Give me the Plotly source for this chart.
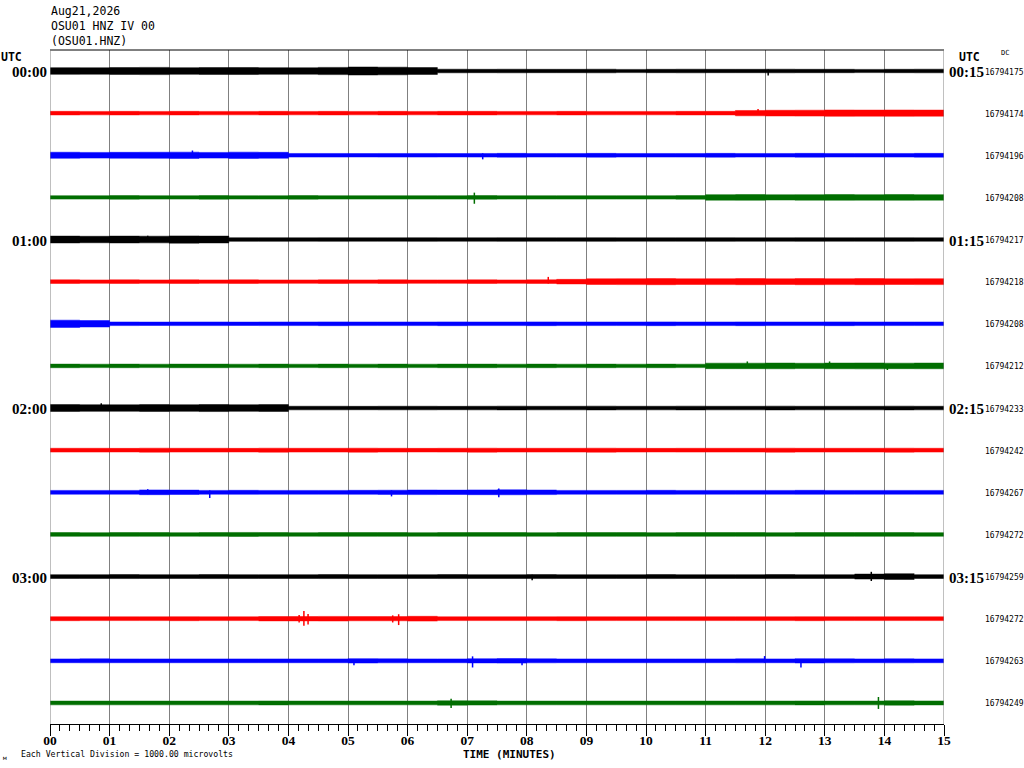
import plotly.graph_objects as go

# ---------------- data ----------------
TITLE_LINES = ["Aug21,2026", "OSU01 HNZ IV 00", "(OSU01.HNZ)"]
LEFT_LABELS = ["00:00", "", "", "", "01:00", "", "", "", "02:00", "", "", "", "03:00", "", "", ""]
RIGHT_LABELS = ["00:15", "", "", "", "01:15", "", "", "", "02:15", "", "", "", "03:15", "", "", ""]
DC_VALUES = ["16794175", "16794174", "16794196", "16794208", "16794217", "16794218", "16794208", "16794212",
             "16794233", "16794242", "16794267", "16794272", "16794259", "16794272", "16794263", "16794249"]
TICK_LABELS = ["00", "01", "02", "03", "04", "05", "06", "07", "08", "09", "10", "11", "12", "13", "14", "15"]
TICK_VALUES = [0, 1, 2, 3, 4, 5, 6, 7, 8, 9, 10, 11, 12, 13, 14, 15]

# start times (minutes) of the 30-second envelope readings
TIMES = [0, 0.5, 1, 1.5, 2, 2.5, 3, 3.5, 4, 4.5, 5, 5.5, 6, 6.5, 7, 7.5, 8, 8.5, 9, 9.5,
         10, 10.5, 11, 11.5, 12, 12.5, 13, 13.5, 14, 14.5, 15]

# half-amplitude of each trace's envelope per 30 s
amp_0000 = [3.5, 3.4, 3.6, 3.8, 3.5, 3.6, 3.7, 3.5, 3.4, 3.8, 4.2, 4.0, 3.6, 1.9, 1.8, 1.9, 1.8, 1.8, 1.9, 1.7,
            1.8, 1.9, 1.8, 1.8, 1.9, 1.8, 1.8, 1.7, 1.8, 1.9, 1.9]
amp_0015 = [1.9, 1.8, 1.9, 1.8, 1.9, 1.8, 1.8, 1.9, 1.8, 1.9, 1.8, 1.9, 1.8, 1.9, 1.9, 1.8, 1.8, 1.9, 1.8, 1.8,
            1.8, 1.9, 1.9, 2.8, 3.0, 3.1, 3.3, 3.2, 3.3, 3.2, 3.1]
amp_0030 = [3.2, 3.0, 3.1, 3.2, 3.3, 3.0, 3.3, 3.1, 1.9, 1.9, 1.8, 1.9, 1.9, 1.8, 1.9, 2.0, 1.9, 1.9, 2.0, 1.9,
            1.9, 1.9, 2.0, 1.9, 1.9, 2.0, 1.9, 1.9, 1.9, 2.0, 1.9]
amp_0045 = [1.8, 1.8, 1.9, 1.8, 1.8, 1.9, 1.8, 1.8, 1.9, 1.8, 1.8, 1.8, 1.8, 1.8, 1.9, 1.8, 1.8, 1.8, 1.8, 1.8,
            1.8, 1.9, 2.9, 3.0, 2.8, 2.9, 3.0, 2.9, 3.0, 2.9, 2.8]
amp_0100 = [3.6, 3.4, 3.6, 3.5, 3.8, 3.6, 1.9, 1.9, 1.8, 1.9, 1.8, 1.8, 1.9, 1.8, 1.8, 1.9, 1.8, 1.8, 1.9, 1.8,
            1.8, 1.8, 1.9, 1.8, 1.8, 1.9, 1.8, 1.8, 1.9, 1.8, 1.9]
amp_0115 = [1.9, 1.8, 1.9, 1.8, 1.9, 1.8, 1.9, 1.8, 1.8, 1.9, 1.8, 1.9, 1.8, 1.8, 1.9, 1.8, 1.9, 2.4, 3.0, 3.1,
            3.2, 3.0, 3.1, 3.2, 3.0, 3.2, 3.1, 3.2, 3.0, 3.1, 3.0]
amp_0130 = [3.8, 3.4, 1.9, 1.8, 1.9, 1.9, 1.8, 1.9, 1.9, 2.0, 1.9, 1.9, 1.9, 2.0, 1.9, 1.9, 2.0, 1.9, 1.9, 1.9,
            2.0, 1.9, 1.9, 2.0, 1.9, 1.9, 2.0, 1.9, 1.9, 1.9, 1.9]
amp_0145 = [1.9, 1.8, 1.9, 1.8, 1.9, 1.9, 1.8, 1.9, 1.8, 1.9, 1.8, 1.9, 1.8, 1.9, 1.9, 1.8, 1.9, 1.8, 1.9, 1.8,
            1.9, 1.8, 2.9, 2.9, 3.0, 2.8, 3.0, 3.1, 2.9, 3.0, 3.1]
amp_0200 = [3.6, 3.5, 3.4, 3.6, 3.5, 3.7, 3.5, 3.6, 1.9, 1.9, 1.8, 1.9, 1.9, 1.8, 1.9, 2.0, 1.9, 1.9, 2.0, 1.9,
            1.9, 2.0, 1.9, 1.9, 2.0, 1.9, 1.9, 1.9, 2.0, 1.9, 1.9]
amp_0215 = [2.0, 2.0, 1.9, 2.1, 2.0, 2.0, 1.9, 2.1, 2.0, 2.0, 2.1, 2.0, 1.9, 2.0, 2.1, 2.0, 2.0, 2.0, 2.1, 2.0,
            1.9, 2.0, 2.0, 2.0, 2.1, 2.0, 2.0, 2.0, 2.1, 2.0, 2.0]
amp_0230 = [2.0, 2.0, 2.0, 2.5, 2.3, 2.0, 2.1, 2.0, 2.0, 2.0, 2.1, 2.2, 2.4, 2.3, 2.5, 2.6, 2.4, 2.0, 2.0, 2.0,
            2.1, 2.0, 2.0, 2.0, 2.0, 2.1, 2.0, 2.0, 2.0, 2.0, 2.0]
amp_0245 = [2.0, 1.9, 2.0, 2.0, 1.9, 2.0, 2.1, 2.0, 1.9, 2.0, 2.0, 2.0, 1.9, 2.0, 2.0, 2.0, 1.9, 2.0, 2.0, 2.0,
            1.9, 2.0, 2.0, 2.0, 1.9, 2.0, 2.0, 2.0, 2.0, 1.9, 2.0]
amp_0300 = [2.0, 2.0, 2.1, 2.0, 2.0, 2.1, 2.0, 2.0, 2.0, 2.1, 2.0, 2.0, 2.0, 2.1, 2.0, 2.0, 2.1, 2.0, 2.0, 2.0,
            2.1, 2.0, 2.0, 2.0, 2.1, 2.0, 2.0, 2.6, 3.0, 2.0, 2.0]
amp_0315 = [2.1, 2.0, 2.0, 2.0, 2.1, 2.0, 2.0, 2.3, 2.3, 2.4, 2.2, 2.2, 2.5, 2.0, 2.0, 2.0, 2.0, 2.1, 2.0, 2.0,
            2.0, 2.0, 2.0, 2.0, 2.0, 2.1, 2.0, 2.0, 2.0, 2.0, 2.0]
amp_0330 = [2.0, 2.1, 2.0, 2.0, 2.0, 2.0, 2.0, 2.0, 2.0, 2.0, 2.3, 2.1, 2.0, 2.0, 2.2, 2.4, 2.1, 2.0, 2.0, 2.0,
            2.0, 2.0, 2.0, 2.1, 2.0, 2.3, 2.1, 2.0, 2.1, 2.0, 2.0]
amp_0345 = [2.0, 2.0, 2.0, 2.0, 2.0, 2.0, 2.0, 2.1, 2.0, 2.0, 2.0, 2.0, 2.0, 2.3, 2.2, 2.0, 2.0, 2.0, 2.0, 2.0,
            2.0, 2.0, 2.0, 2.0, 2.0, 2.1, 2.0, 2.0, 2.3, 2.1, 2.0]

# individual spikes: trace index, minute, excursion up, excursion down
SPIKE_TRACE = [0, 1, 2, 2, 3, 4, 5, 7, 7, 7, 8, 10, 10, 10, 10, 12, 12, 13, 13, 13, 13, 13,
               14, 14, 14, 14, 14, 15, 15]
SPIKE_MIN = [12.05, 11.88, 2.39, 7.26, 7.12, 1.64, 8.36, 11.7, 13.08, 14.05, 0.86, 2.68, 7.53, 5.73, 1.64,
             13.78, 8.09, 4.26, 4.33, 4.18, 5.85, 5.75, 7.09, 7.92, 11.99, 12.6, 5.1, 6.73, 13.9]
SPIKE_UP = [1.5, 4.3, 5.0, 2.0, 5.0, 4.0, 5.0, 4.7, 4.7, 2.0, 5.0, 2.0, 4.0, 2.0, 3.3,
            5.0, 2.0, 8.0, 5.0, 4.0, 4.7, 3.5, 4.7, 2.0, 5.0, 2.0, 2.0, 4.3, 6.3]
SPIKE_DOWN = [4.7, 2.0, 2.0, 4.3, 6.7, 2.0, 2.0, 2.0, 2.0, 4.3, 2.0, 6.0, 5.3, 4.3, 2.0,
              4.7, 4.0, 7.5, 6.0, 4.0, 6.7, 4.0, 7.0, 4.7, 2.0, 7.0, 4.7, 5.3, 6.3]

TRACE_AMPS = [amp_0000, amp_0015, amp_0030, amp_0045, amp_0100, amp_0115, amp_0130, amp_0145,
              amp_0200, amp_0215, amp_0230, amp_0245, amp_0300, amp_0315, amp_0330, amp_0345]
COLORS = ["#000000", "#ff0000", "#0000ff", "#006e00"]

# ---------------- layout constants ----------------
W, H = 1024, 768
L, R, T, B = 50, 80, 50, 44
PW, PH = W - L - R, H - T - B
FIRST_OFFSET = 21.0
SPACING = 42.13
GAIN = 0.95


def baseline(i):
    return -(FIRST_OFFSET + i * SPACING)


def px_x(px):
    return (px - L) / PW


def px_y(py):
    return (T + PH - py) / PH


fig = go.Figure()

# trace envelopes (lower edge, then upper edge filled to it)
for i, amps in enumerate(TRACE_AMPS):
    b = baseline(i)
    col = COLORS[i % 4]
    fig.add_trace(go.Scatter(x=TIMES, y=[b - GAIN * a for a in amps], mode="lines",
                             line=dict(color=col, width=0.5, shape="hv"),
                             hoverinfo="skip", showlegend=False))
    fig.add_trace(go.Scatter(x=TIMES, y=[b + GAIN * a for a in amps], mode="lines",
                             line=dict(color=col, width=0.5, shape="hv"), fill="tonexty", fillcolor=col,
                             hoverinfo="skip", showlegend=False))

# spikes
for c in range(4):
    sx, sy = [], []
    for t, m, u, d in zip(SPIKE_TRACE, SPIKE_MIN, SPIKE_UP, SPIKE_DOWN):
        if t % 4 == c:
            b = baseline(t)
            sx += [m, m, None]
            sy += [b + GAIN * u, b - GAIN * d, None]
    fig.add_trace(go.Scatter(x=sx, y=sy, mode="lines", line=dict(color=COLORS[c], width=1.5),
                             hoverinfo="skip", showlegend=False))

ann = []
mono = "DejaVu Sans Mono"
serif = "Liberation Serif"
for k, line in enumerate(TITLE_LINES):
    ann.append(dict(text=line, xref="paper", yref="paper", x=px_x(49), y=px_y(11 + 15 * k),
                    xanchor="left", yanchor="middle", showarrow=False,
                    font=dict(family=mono, size=11.5, color="black")))
ann.append(dict(text="UTC", xref="paper", yref="paper", x=px_x(-1), y=px_y(57), xanchor="left",
                yanchor="middle", showarrow=False, font=dict(family=mono, size=11.5, color="black", weight="bold")))
ann.append(dict(text="UTC", xref="paper", yref="paper", x=px_x(957), y=px_y(57), xanchor="left",
                yanchor="middle", showarrow=False, font=dict(family=mono, size=11.5, color="black", weight="bold")))
ann.append(dict(text="DC", xref="paper", yref="paper", x=px_x(999), y=px_y(53), xanchor="left",
                yanchor="middle", showarrow=False, font=dict(family=mono, size=7, color="black")))
for i in range(16):
    b = baseline(i)
    if LEFT_LABELS[i]:
        ann.append(dict(text=LEFT_LABELS[i], xref="paper", yref="y", x=px_x(49), y=b, xanchor="right",
                        yanchor="middle", yshift=-1, showarrow=False,
                        font=dict(family=serif, size=15, color="black", weight="bold")))
    if RIGHT_LABELS[i]:
        ann.append(dict(text=RIGHT_LABELS[i], xref="paper", yref="y", x=px_x(947), y=b, xanchor="left",
                        yanchor="middle", yshift=-1, showarrow=False,
                        font=dict(family=serif, size=15, color="black", weight="bold")))
    ann.append(dict(text=DC_VALUES[i], xref="paper", yref="y", x=px_x(983), y=b, xanchor="left",
                    yanchor="middle", yshift=-1, showarrow=False,
                    font=dict(family=mono, size=8, color="black")))
ann.append(dict(text="TIME (MINUTES)", xref="paper", yref="paper", x=px_x(509), y=px_y(754),
                xanchor="center", yanchor="middle", showarrow=False,
                font=dict(family=mono, size=11, color="black", weight="bold")))
ann.append(dict(text="Each Vertical Division = 1000.00 microvolts", xref="paper", yref="paper",
                x=px_x(19), y=px_y(754), xanchor="left", yanchor="middle", showarrow=False,
                font=dict(family=mono, size=8.2, color="black")))
ann.append(dict(text="м", xref="paper", yref="paper", x=px_x(1), y=px_y(757), xanchor="left",
                yanchor="middle", showarrow=False, font=dict(family=mono, size=6, color="black")))

shapes = [
    dict(type="line", xref="paper", yref="paper", x0=0, x1=1, y0=1, y1=1, line=dict(color="black", width=1)),
    dict(type="line", xref="x", yref="paper", x0=0, x1=0, y0=0, y1=1, line=dict(color="#808080", width=1)),
    dict(type="line", xref="x", yref="paper", x0=15, x1=15, y0=0, y1=1, line=dict(color="#808080", width=1)),
]

fig.update_layout(
    width=W, height=H,
    margin=dict(l=L, r=R, t=T, b=B, pad=0),
    paper_bgcolor="white", plot_bgcolor="white",
    showlegend=False,
    annotations=ann, shapes=shapes,
    xaxis=dict(range=[0, 15], tickvals=TICK_VALUES, ticktext=TICK_LABELS,
               showgrid=True, gridcolor="#808080", gridwidth=1, zeroline=False,
               showline=True, linecolor="black", linewidth=1,
               ticks="outside", ticklen=11, tickwidth=1, tickcolor="black",
               ticklabelstandoff=-7,
               tickfont=dict(family=serif, size=13.5, color="black", weight="bold"),
               minor=dict(dtick=1 / 6, tick0=0, ticks="outside", ticklen=6, tickcolor="black",
                          tickwidth=1, showgrid=False),
               fixedrange=True),
    yaxis=dict(range=[-PH, 0], visible=False, showgrid=False, zeroline=False, fixedrange=True),
)

fig.write_html("out.html", config={"displayModeBar": False, "staticPlot": True},
               post_script="document.body.style.margin='0px';document.body.style.overflow='hidden';")
